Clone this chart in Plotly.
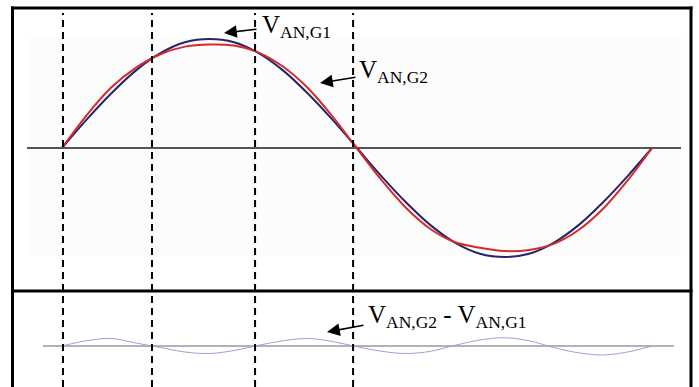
import plotly.graph_objects as go

W, H = 699, 387

# Phase angle samples (degrees) over one cycle
angle_deg = [0, 15, 30, 45, 60, 75, 90, 105, 120, 135, 150, 165, 180,
             195, 210, 225, 240, 255, 270, 285, 300, 315, 330, 345, 360]

# Phase voltage of generator G1 (per unit)
v_an_g1 = [0.00, 0.26, 0.50, 0.71, 0.87, 0.97, 1.00, 0.97, 0.87, 0.71, 0.50, 0.26, 0.00,
           -0.26, -0.50, -0.71, -0.87, -0.97, -1.00, -0.97, -0.87, -0.71, -0.50, -0.26, 0.00]

# Phase voltage of generator G2 (per unit)
v_an_g2 = [0.00, 0.30, 0.555, 0.735, 0.86, 0.93, 0.95, 0.94, 0.875, 0.745, 0.55, 0.29, -0.005,
           -0.295, -0.55, -0.745, -0.865, -0.915, -0.945, -0.935, -0.88, -0.755, -0.56, -0.30, 0.00]

# Difference V_AN,G2 - V_AN,G1 (per unit)
v_diff = [0.00, 0.035, 0.05, 0.02, -0.01, -0.04, -0.05, -0.03, 0.005, 0.035, 0.05, 0.03, -0.005,
          -0.035, -0.05, -0.035, 0.005, 0.04, 0.055, 0.035, -0.01, -0.045, -0.06, -0.04, 0.00]

# Angles where the two waveforms intersect
crossing_deg = [0.6, 54.9, 117.8, 177.6]

# Pixel mapping helpers for the layout
X0_PX, X360_PX = 62, 652
deg_per_px = 360 / (X360_PX - X0_PX)
x_range = [-X0_PX * deg_per_px, (W - X0_PX) * deg_per_px]

TOP_ZERO_PX, TOP_SCALE = 148, 109
BOT_ZERO_PX, BOT_SCALE = 346, 150
y_range = [(TOP_ZERO_PX - H) / TOP_SCALE, TOP_ZERO_PX / TOP_SCALE]
y2_range = [(BOT_ZERO_PX - H) / BOT_SCALE, BOT_ZERO_PX / BOT_SCALE]


def px(x):
    return x / W


def py(y):
    return 1 - y / H


fig = go.Figure()

fig.add_trace(go.Scatter(x=angle_deg, y=v_an_g1, mode="lines", line_shape="spline",
                         line=dict(color="#25256a", width=2), hoverinfo="skip"))
fig.add_trace(go.Scatter(x=angle_deg, y=v_an_g2, mode="lines", line_shape="spline",
                         line=dict(color="#d62a2a", width=2), hoverinfo="skip"))
fig.add_trace(go.Scatter(x=angle_deg, y=v_diff, mode="lines", line_shape="spline",
                         line=dict(color="#a0a0d4", width=1), yaxis="y2", hoverinfo="skip"))

shapes = []
# faint backdrop of the upper plot
shapes.append(dict(type="rect", xref="paper", yref="paper", layer="below",
                   x0=px(27), x1=px(681), y0=py(256), y1=py(38),
                   fillcolor="#fcfcfc", line=dict(width=0)))
# zero axes
shapes.append(dict(type="line", xref="paper", yref="y", layer="below",
                   x0=px(27), x1=px(681), y0=0, y1=0,
                   line=dict(color="#555555", width=2)))
shapes.append(dict(type="line", xref="paper", yref="y2", layer="below",
                   x0=px(43), x1=px(674), y0=0, y1=0,
                   line=dict(color="#666666", width=1)))
# frame
frame = dict(color="black", width=3)
shapes.append(dict(type="line", xref="paper", yref="paper", x0=px(12.5), x1=px(12.5),
                   y0=0, y1=py(6.5), line=frame))
shapes.append(dict(type="line", xref="paper", yref="paper", x0=px(691), x1=px(691),
                   y0=0, y1=py(6.5), line=frame))
shapes.append(dict(type="line", xref="paper", yref="paper", x0=px(11), x1=px(692.5),
                   y0=py(8), y1=py(8), line=frame))
shapes.append(dict(type="line", xref="paper", yref="paper", x0=px(11), x1=px(692.5),
                   y0=py(291), y1=py(291), line=frame))
# vertical dashed markers at the intersections
for a in crossing_deg:
    shapes.append(dict(type="line", xref="x", yref="paper", x0=a, x1=a,
                       y0=0, y1=py(13),
                       line=dict(color="black", width=2, dash="7px,5px")))

annotations = []
font = dict(family="'Times New Roman', 'Liberation Serif', serif", size=25, color="black")


def label(text, x_px, baseline_px):
    annotations.append(dict(text=text, xref="paper", yref="paper",
                            x=px(x_px), y=py(baseline_px), xanchor="left", yanchor="bottom",
                            showarrow=False, font=font))


def arrow(head, tail):
    annotations.append(dict(text="", xref="paper", yref="paper",
                            x=px(head[0]), y=py(head[1]),
                            axref="pixel", ayref="pixel",
                            ax=tail[0] - head[0], ay=tail[1] - head[1],
                            showarrow=True, arrowhead=2, arrowsize=1.6,
                            arrowwidth=1.6, arrowcolor="black"))


label("V<sub>AN,G1</sub>", 260, 44)
arrow((224, 33), (258, 29))
label("V<sub>AN,G2</sub>", 357, 89)
arrow((320, 83), (357, 77))
label("V<sub>AN,G2</sub> - V<sub>AN,G1</sub>", 366, 334)
arrow((327, 332), (365, 325))

fig.update_layout(
    width=W, height=H,
    margin=dict(l=0, r=0, t=0, b=0),
    paper_bgcolor="white", plot_bgcolor="rgba(0,0,0,0)",
    showlegend=False,
    xaxis=dict(range=x_range, visible=False, fixedrange=True),
    yaxis=dict(range=y_range, visible=False, fixedrange=True),
    yaxis2=dict(range=y2_range, visible=False, overlaying="y", fixedrange=True),
    shapes=shapes,
    annotations=annotations,
)

fig.write_html("out.html")
